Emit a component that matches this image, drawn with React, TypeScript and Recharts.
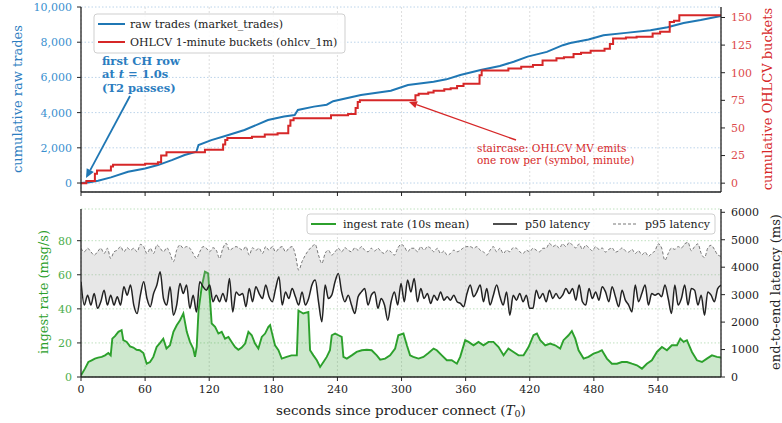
import React from 'react';
import { ComposedChart, Line, Area, XAxis, YAxis, CartesianGrid } from 'recharts';

const FONT = '"DejaVu Serif", serif';

// shared x axis (seconds since producer connect)
const X_MAX = 599;
const X_TICKS = [0, 60, 120, 180, 240, 300, 360, 420, 480, 540];

// top panel: cumulative raw trades (blue)
const TRADES_T = [0, 8, 16, 28, 44, 60, 72, 85, 97, 108, 110, 122, 138, 153, 175, 190, 200, 203, 218, 230, 236, 262, 290, 306, 330, 342, 355, 374, 392, 405, 418, 436, 451, 458, 475, 489, 510, 533, 549, 564, 580, 599];
const TRADES_N = [0, 50, 130, 320, 640, 830, 1020, 1300, 1590, 1780, 2160, 2440, 2730, 3010, 3580, 3780, 3860, 4150, 4340, 4450, 4650, 5000, 5240, 5570, 5750, 5890, 6140, 6420, 6650, 6890, 7180, 7450, 7830, 7950, 8150, 8390, 8530, 8680, 8850, 9090, 9260, 9490];

// top panel: cumulative OHLCV 1-minute buckets (red staircase)
const OHLCV_T = [0, 5, 13, 15, 28, 30, 60, 72, 75, 80, 116, 133, 135, 137, 160, 172, 184, 194, 196, 199, 234, 250, 257, 259, 261, 313, 316, 325, 330, 340, 346, 352, 358, 373, 375, 400, 412, 423, 432, 445, 452, 461, 468, 477, 490, 495, 498, 510, 520, 535, 542, 551, 555, 560, 599];
const OHLCV_N = [0, 2, 8.5, 11.5, 15, 16.7, 17.5, 19, 25, 28, 30.3, 35, 39, 41, 42, 44, 45.3, 52, 57, 58.8, 61.4, 62.7, 68, 73.4, 75, 79.5, 81, 82, 83.6, 85, 86, 88, 90, 97.6, 102, 103.8, 105.3, 107, 111, 113, 114, 117, 118, 120, 121.8, 126, 131, 131.8, 132.5, 135.4, 137, 146, 147, 152, 152];

// bottom panel: ingest rate, 10s mean (msg/s)
const INGEST_T = [
  0, 3.7, 6.9, 10, 13, 16, 19.4, 22.5, 25.6, 27.8, 29.3, 31.8, 35, 38, 39.6, 42.8, 45.9, 49, 52, 55,
  58.4, 61.5, 64.6, 67.7, 70.8, 74, 77, 80, 83.3, 86.5, 89.6, 92.7, 95.8, 99, 102, 105, 106.7, 108.3, 110, 113,
  116, 119, 120.8, 122.3, 125.5, 128.6, 131.7, 134.8, 138, 141, 144.2, 147.3, 150.4, 153.6, 156.7, 159.8, 162.9, 166, 169.2, 172.3,
  175.4, 177, 178.5, 181.6, 184.8, 187.9, 192.5, 197, 202, 203.5, 208, 212.8, 214.4, 217.5, 220.7, 223.8, 226.9, 230, 233, 234.7,
  237.8, 241, 244, 245.6, 248.8, 253.4, 258, 262.8, 267.5, 272, 276.8, 280, 284.6, 289.3, 294, 297, 301.8, 305, 308, 311,
  315.9, 320.5, 325.2, 330, 333, 337.7, 342.4, 347, 351.8, 354.9, 359.6, 362.7, 367.4, 372, 376.7, 381.4, 386, 390.8, 395.5, 400,
  404.8, 409.5, 414.2, 418.9, 423.5, 426.7, 429.8, 434.5, 439.1, 443.8, 448.5, 451.6, 456.3, 459.4, 462.6, 465.7, 470.4, 475, 479.7, 484.4,
  487.5, 492.2, 496.9, 501.6, 506.2, 511, 515.6, 520.3, 525, 529.6, 534.3, 539, 543.7, 548.4, 553, 557.8, 560.9, 564, 567.1, 571.8,
  576.5, 581.2, 585.8, 590.5, 595.2, 599,
];
const INGEST_RATE = [
  1, 4.9, 8.8, 9.8, 10.8, 11.4, 11.8, 12.7, 14.1, 12.7, 22.5, 24, 26.5, 27.5, 21.6, 20.6, 18, 17.3, 16, 15.7,
  14.1, 7.8, 8.8, 11.8, 17.6, 20, 22.5, 16.7, 18.6, 26.5, 30.4, 33.3, 37.3, 26.5, 20.6, 16.7, 11.8, 17.6, 39, 53,
  61.8, 60.8, 45, 31.4, 29.4, 25.5, 26.5, 22.5, 23.5, 20.6, 17.6, 16, 17.3, 19.6, 26.5, 24.5, 19.6, 16.7, 23.5, 25.5,
  29.4, 30.4, 26.5, 18.6, 15.7, 10.8, 11.8, 12.7, 12.7, 39, 37.3, 38.2, 15.7, 12.7, 9.8, 5.9, 8.8, 11.8, 15.7, 24.5,
  25.5, 24.5, 23.5, 11.8, 10.8, 12.7, 14.7, 15.7, 16, 15.7, 12.7, 10.2, 10.8, 12.7, 16.7, 24.5, 25.5, 18.6, 12.7, 11.8,
  10.8, 11.8, 14.1, 16.7, 15.7, 12.7, 9.8, 9.8, 7.8, 11.8, 21.6, 20.6, 18.6, 20.6, 18.6, 20.6, 20.6, 17.6, 12.7, 16.7,
  14.7, 12.7, 12.7, 17.6, 24.5, 25.5, 21.6, 18.6, 19.6, 18.6, 16.7, 21.6, 24.5, 27, 22.5, 15.7, 10.8, 11.8, 13.7, 14.7,
  15.7, 10.8, 7.8, 7.8, 8.8, 8.8, 7.8, 6.9, 4.9, 7.8, 9.8, 14.7, 17.6, 15.7, 18.6, 18.6, 22.5, 20.6, 21.6, 14.7,
  9.8, 8.8, 10.8, 12.7, 11.8, 11.4,
];

// bottom panel: latency percentiles (ms), evenly spaced samples over 0..599 s
const P50_MS = [
  3470, 2620, 2980, 2620, 3040, 2500, 2740, 3160, 2620, 2980, 2620, 2920, 2620, 3290, 2980, 3350, 2620, 2310, 2980, 3470,
  2860, 2560, 3040, 3350, 3830, 2860, 2620, 3290, 2250, 2620, 3410, 3040, 3350, 2500, 2980, 2370, 3470, 3290, 3160, 3350,
  2740, 2980, 2740, 3040, 2740, 3590, 2370, 3100, 2980,
  3040, 2560, 3220, 2740, 3290, 3040, 2860, 3350, 2920, 2740, 3220, 3650, 2620, 3100, 2860, 3220, 2920, 2620, 3100, 2620,
  2860, 3350, 3530, 2740, 2010, 3350, 2860, 2980, 3470, 3770, 3100, 2740, 2980, 2620, 2310, 2920, 3100, 3220, 2620, 2980,
  3100, 2500, 2860, 2620, 2070, 2740, 3100, 2620, 3410,
  2740, 3530, 3100, 3590, 2740, 3220, 2860, 3040, 2680, 2980, 2800, 3100, 2800, 2920, 2800, 2980, 2740, 2680, 2560, 3040,
  3350, 2920, 3100, 3350, 2740, 3220, 2620, 2980, 3350, 2920, 2620, 3100, 2250, 2980, 2800, 3040, 2740, 2980, 2500, 2500,
  3160, 2860, 3040, 2740, 3160, 2860, 3040, 2860,
  2980, 3220, 3040, 3220, 2800, 3350, 2740, 2620, 3220, 2860, 3100, 2800, 3290, 3100, 2740, 3290, 2920, 2560, 3160, 2800,
  2620, 2370, 3350, 2740, 3040, 3350, 2620, 3040, 2980, 3040, 2920, 3350, 2860, 2310, 3350, 2620, 2860, 3350, 2620, 3220,
  3160, 2620, 2980, 2250, 3100, 2980, 2740, 3220, 3350,
];
const P95_MS = [
  4690, 4560, 4690, 4560, 4440, 4560, 4690, 4500, 4690, 4320, 4560, 4620, 4750, 4560, 4710, 4620, 4690, 4560, 4830, 4750,
  4500, 4690, 4500, 4810, 4690, 4560, 4710, 4500, 4200, 4620, 4810, 4690, 4750, 4690, 4500, 4320, 4560, 4750, 4690, 4560,
  4710, 4620, 4320, 4690, 4870, 4620, 4690, 4750,
  4690, 4620, 4750, 4440, 4710, 4620, 4690, 4500, 4750, 4620, 4750, 4560, 4690, 4750, 4560, 4690, 4750, 4440, 3890, 4200,
  4440, 4620, 4750, 4830, 4440, 4140, 4500, 4620, 4440, 4560, 4690, 4560, 4710, 4620, 4560, 4710, 4620, 4750, 4620, 4560,
  4690, 4590, 4690, 4560, 4500, 4620, 4560, 4440, 4690, 4830,
  4750, 4560, 4690, 4690, 4560, 4750, 4620, 4750, 4690, 4560, 4690, 4500, 4590, 4440, 4500, 4620, 4560, 4620, 4710, 4750,
  4750, 4690, 4750, 4620, 4560, 4440, 4620, 4750, 4560, 4690, 4500, 4620, 4560, 4710, 4690, 4560, 4500, 4620, 4560, 4690,
  4620, 4560, 4690, 4690, 4870, 4750, 4810, 4690,
  4850, 4750, 4900, 4800, 4700, 4850, 4650, 4800, 4700, 4600, 4750, 4650, 4700, 4550, 4650, 4700, 4550, 4600, 4700, 4600,
  4550, 4650, 4500, 4600, 4450, 4550, 4400, 4500, 4600, 4850, 4700, 4250, 4500, 4700, 4650, 4750, 4700, 4850, 4900, 4600,
  4750, 4850, 4500, 4350, 4700, 4800, 4650, 4450, 4400,
];

const TOP_LEFT_TICKS = [0, 2000, 4000, 6000, 8000, 10000];
const TOP_RIGHT_TICKS = [0, 25, 50, 75, 100, 125, 150];
const BOT_LEFT_TICKS = [0, 20, 40, 60, 80];
const BOT_RIGHT_TICKS = [0, 1000, 2000, 3000, 4000, 5000, 6000];

const trades = TRADES_T.map((t, i) => ({ t, n: TRADES_N[i] }));
const ohlcv = OHLCV_T.map((t, i) => ({ t, n: OHLCV_N[i] }));
const nIn = Math.min(INGEST_T.length, INGEST_RATE.length);
const ingest = INGEST_T.slice(0, nIn).map((t, i) => ({ t, rate: INGEST_RATE[i] }));
const nLat = Math.min(P50_MS.length, P95_MS.length);
const latency = P50_MS.slice(0, nLat).map((p50, i) => ({
  t: (i * X_MAX) / (nLat - 1),
  p50,
  p95: P95_MS[i],
  band: [p50, P95_MS[i]],
}));

const BLUE = '#1f77b4';
const RED = '#d62728';
const GREEN = '#2ca02c';
const INK = '#222';

const axisLine = { stroke: INK, strokeWidth: 1.3 };
const tickLine = { stroke: INK, strokeWidth: 1 };
const tickFont = (fill: string) => ({ fill, fontSize: 11, fontFamily: FONT });

const Arrow = ({ x1, y1, x2, y2, color, width, head }: any) => {
  const a = Math.atan2(y2 - y1, x2 - x1);
  const bx = x2 - head * Math.cos(a);
  const by = y2 - head * Math.sin(a);
  const w = head * 0.45;
  const px = -Math.sin(a) * w;
  const py = Math.cos(a) * w;
  return (
    <g>
      <line x1={x1} y1={y1} x2={bx} y2={by} stroke={color} strokeWidth={width} />
      <polygon points={`${x2},${y2} ${bx + px},${by + py} ${bx - px},${by - py}`} fill={color} />
    </g>
  );
};

function TopPanel() {
  return (
    <ComposedChart width={782} height={205} margin={{ top: 7, right: 0, bottom: 0, left: 0 }}>
      <CartesianGrid xAxisId="b" yAxisId="l" vertical={false} stroke="#bcd4ea" strokeDasharray="1.5 2" />
      <CartesianGrid xAxisId="b" yAxisId="l" horizontal={false} stroke="#dedede" strokeDasharray="2 2" />
      <XAxis xAxisId="b" type="number" dataKey="t" domain={[0, X_MAX]} ticks={X_TICKS} allowDataOverflow
        height={13} tick={() => <g />} tickSize={4} axisLine={axisLine} tickLine={tickLine} />
      <XAxis xAxisId="top" orientation="top" type="number" dataKey="t" domain={[0, X_MAX]} height={0}
        tick={false} tickLine={false} axisLine={axisLine} />
      <YAxis yAxisId="l" type="number" width={81} domain={[-510, 10000]} ticks={TOP_LEFT_TICKS} allowDataOverflow
        tickFormatter={(v: number) => v.toLocaleString('en-US')} tick={tickFont('#3a8fcf')} tickSize={4} tickMargin={5}
        axisLine={axisLine} tickLine={tickLine} />
      <YAxis yAxisId="r" orientation="right" type="number" width={61} domain={[-8, 159.5]} ticks={TOP_RIGHT_TICKS}
        allowDataOverflow tick={tickFont('#dc4a4b')} tickSize={4} tickMargin={6} axisLine={axisLine} tickLine={tickLine} />
      <Line xAxisId="b" yAxisId="l" data={trades} dataKey="n" type="linear" stroke={BLUE} strokeWidth={2}
        dot={false} isAnimationActive={false} />
      <Line xAxisId="b" yAxisId="r" data={ohlcv} dataKey="n" type="stepAfter" stroke={RED} strokeWidth={2}
        dot={false} isAnimationActive={false} />
    </ComposedChart>
  );
}

function BottomPanel() {
  return (
    <ComposedChart width={782} height={200} margin={{ top: 9, right: 0, bottom: 0, left: 0 }}>
      <CartesianGrid xAxisId="b" yAxisId="l" vertical={false} stroke="#bfe0bf" strokeDasharray="1.5 2" />
      <CartesianGrid xAxisId="b" yAxisId="l" horizontal={false} stroke="#dedede" strokeDasharray="2 2" />
      <XAxis xAxisId="b" type="number" dataKey="t" domain={[0, X_MAX]} ticks={X_TICKS} allowDataOverflow
        height={23} tick={tickFont(INK)} tickSize={4} tickMargin={4} axisLine={axisLine} tickLine={tickLine} />
      <XAxis xAxisId="top" orientation="top" type="number" dataKey="t" domain={[0, X_MAX]} height={0}
        tick={false} tickLine={false} axisLine={axisLine} />
      <YAxis yAxisId="l" type="number" width={81} domain={[0, 98.6]} ticks={BOT_LEFT_TICKS} allowDataOverflow
        tick={tickFont('#4cae4c')} tickSize={4} tickMargin={5} axisLine={axisLine} tickLine={tickLine} />
      <YAxis yAxisId="r" orientation="right" type="number" width={61} domain={[0, 6120]} ticks={BOT_RIGHT_TICKS}
        allowDataOverflow tick={tickFont(INK)} tickSize={4} tickMargin={6} axisLine={axisLine} tickLine={tickLine} />
      <Area xAxisId="b" yAxisId="l" data={ingest} dataKey="rate" type="linear" stroke={GREEN} strokeWidth={1.9}
        fill={GREEN} fillOpacity={0.24} baseValue={0} dot={false} isAnimationActive={false} />
      <Area xAxisId="b" yAxisId="r" data={latency} dataKey="band" type="monotone" stroke="none"
        fill="#a8a8a8" fillOpacity={0.27} dot={false} isAnimationActive={false} />
      <Line xAxisId="b" yAxisId="r" data={latency} dataKey="p95" type="monotone" stroke="#777" strokeWidth={1}
        strokeDasharray="3 2" dot={false} isAnimationActive={false} />
      <Line xAxisId="b" yAxisId="r" data={latency} dataKey="p50" type="monotone" stroke={INK} strokeWidth={1.5}
        dot={false} isAnimationActive={false} />
    </ComposedChart>
  );
}

function Overlay() {
  const txt = { fontFamily: FONT };
  return (
    <svg width={782} height={423} style={{ position: 'absolute', left: 0, top: 0, pointerEvents: 'none' }}>
      {/* axis titles */}
      <text x={17} y={99} transform="rotate(-90 17 99)" textAnchor="middle" dominantBaseline="central"
        fontSize={13} fill="#2b7dc0" style={txt}>cumulative raw trades</text>
      <text x={767} y={99} transform="rotate(-90 767 99)" textAnchor="middle" dominantBaseline="central"
        fontSize={13} fill={RED} style={txt}>cumulative OHLCV buckets</text>
      <text x={43} y={292} transform="rotate(-90 43 292)" textAnchor="middle" dominantBaseline="central"
        fontSize={13} fill={GREEN} style={txt}>ingest rate (msg/s)</text>
      <text x={775} y={292} transform="rotate(-90 775 292)" textAnchor="middle" dominantBaseline="central"
        fontSize={13} fill={INK} style={txt}>end-to-end latency (ms)</text>
      <text x={401} y={410} textAnchor="middle" dominantBaseline="central" fontSize={13.5} fill={INK} style={txt}>
        seconds since producer connect (<tspan fontStyle="italic">T</tspan>
        <tspan fontSize={9.5} dy={3}>0</tspan><tspan dy={-3}>)</tspan>
      </text>

      {/* top legend */}
      <rect x={94} y={14} width={251} height={39} rx={3} fill="#fff" fillOpacity={0.85} stroke="#cfcfcf" />
      <line x1={98} y1={24} x2={125} y2={24} stroke={BLUE} strokeWidth={2} />
      <text x={130} y={24} dominantBaseline="central" fontSize={11} fill={INK} style={txt}>raw trades (market_trades)</text>
      <line x1={98} y1={42} x2={125} y2={42} stroke={RED} strokeWidth={2} />
      <text x={130} y={42} dominantBaseline="central" fontSize={11} fill={INK} style={txt}>OHLCV 1-minute buckets (ohlcv_1m)</text>

      {/* bottom legend */}
      <rect x={307} y={214} width={408} height={20} rx={3} fill="#fff" fillOpacity={0.85} stroke="#cfcfcf" />
      <line x1={311} y1={224} x2={336} y2={224} stroke={GREEN} strokeWidth={2} />
      <text x={343} y={224} dominantBaseline="central" fontSize={11} fill={INK} style={txt}>ingest rate (10s mean)</text>
      <line x1={493} y1={224} x2={517} y2={224} stroke={INK} strokeWidth={1.6} />
      <text x={525} y={224} dominantBaseline="central" fontSize={11} fill={INK} style={txt}>p50 latency</text>
      <line x1={613} y1={224} x2={637} y2={224} stroke="#777" strokeWidth={1} strokeDasharray="3 2" />
      <text x={645} y={224} dominantBaseline="central" fontSize={11} fill={INK} style={txt}>p95 latency</text>

      {/* annotations */}
      <Arrow x1={130} y1={96} x2={86} y2={178} color={BLUE} width={1.8} head={9} />
      <text x={102} y={61} dominantBaseline="central" fontSize={11.5} fontWeight="bold" fill="#2b7dc0" style={txt}>first CH row</text>
      <text x={102} y={74} dominantBaseline="central" fontSize={11.5} fontWeight="bold" fill="#2b7dc0" style={txt}>
        at <tspan fontStyle="italic">t</tspan> = 1.0s
      </text>
      <text x={102} y={88} dominantBaseline="central" fontSize={11.5} fontWeight="bold" fill="#2b7dc0" style={txt}>(T2 passes)</text>

      <Arrow x1={516} y1={140} x2={409} y2={102} color={RED} width={1.4} head={8} />
      <text x={477} y={148} dominantBaseline="central" fontSize={10.5} fill={RED} style={txt}>staircase: OHLCV MV emits</text>
      <text x={477} y={160} dominantBaseline="central" fontSize={10.5} fill={RED} style={txt}>one row per (symbol, minute)</text>
    </svg>
  );
}

export default function App() {
  return (
    <div style={{ position: 'absolute', left: 0, top: 0, width: 782, height: 423, background: '#fff', fontFamily: FONT }}>
      <div style={{ position: 'absolute', left: 0, top: 0 }}>
        <TopPanel />
      </div>
      <div style={{ position: 'absolute', left: 0, top: 200 }}>
        <BottomPanel />
      </div>
      <Overlay />
    </div>
  );
}
